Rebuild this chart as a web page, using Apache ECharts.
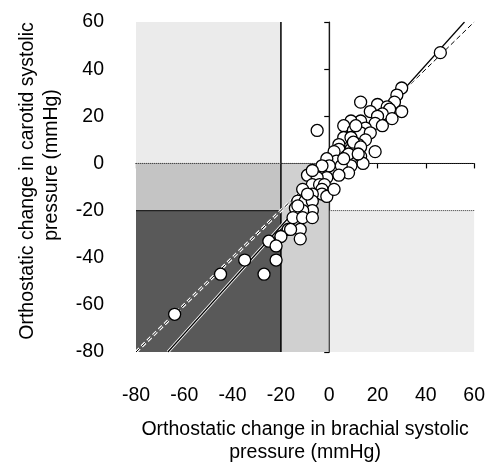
<!DOCTYPE html>
<html>
<head>
<meta charset="utf-8">
<script src="https://cdn.jsdelivr.net/npm/echarts@6/dist/echarts.min.js"></script>
<style>
  html, body { margin: 0; padding: 0; background: #fff; }
  #chart { width: 488px; height: 470px; }
</style>
</head>
<body>
<div id="chart"></div>
<script>
// orthostatic change, mmHg
var brachial = [46, 30, 28, 27, 13, 20, 24, 25, 30, 17, 22, 20, 26, 13, 9, 19, 6, 22, 15, 10,
  13, -5, 17, 6, 9, 15, 4, 12, 19, 9, 4, 2, 7, 13, 8, 3, -1, 6, 14, 9,
  5, 0, -3, 8, 4, -1, -9, -5, -7, -4, -2, -11, -3, -3, -7, -1, -13, -10, -7, -7,
  -11, -14, -13, -15, -11, -7, -17, -12, -16, -20, -12, -25, -22, -22, -27, -35, -45, -64,
  11, 10, 13, 6, -7, 2, -9, 12];
var carotid = [47, 32, 29, 26, 26, 25, 24, 23, 22, 22, 21, 20, 19, 18, 18, 17, 16, 16, 15, 14,
  13, 14, 13, 11, 11, 10, 8, 8, 5, 6, 6, 5, 3, 3, 4, 1, 2, 0, 0, -1,
  -1, -1, -1, -4, -5, -6, -5, -6, -9, -9, -9, -11, -11, -13, -13, -14, -16, -16, -16, -20,
  -20, -19, -18, -23, -23, -23, -28, -28, -28, -31, -32, -33, -35, -41, -47, -41, -47, -64,
  16, 9, 7, 2, -3, -11, -13, 4];

var ticks = [-80, -60, -40, -20, 0, 20, 40, 60];
var regressionLine = [[-66.8, -80], [56, 60]];
var identityLine = [[-80, -80], [60, 60]];

var points = brachial.map(function (x, i) { return [x, carotid[i]]; });

var font = 'Liberation Sans, Arial, sans-serif';
var myChart = echarts.init(document.getElementById('chart'));

function axis(offset) {
  return {
    type: 'value',
    min: ticks[0],
    max: ticks[ticks.length - 1],
    interval: 20,
    offset: offset,
    axisLine: { show: true, lineStyle: { color: '#000', width: 1.2 } },
    axisTick: { show: true, length: 5, lineStyle: { color: '#000', width: 1.2 } },
    axisLabel: { color: '#000', fontSize: 19.5, fontFamily: font, margin: 8 },
    splitLine: { show: false }
  };
}

function seg(data, style) {
  return {
    type: 'line', data: data, symbol: 'none', silent: true,
    lineStyle: style, z: 3
  };
}

var xAxis = axis(26);
xAxis.name = 'Orthostatic change in brachial systolic\npressure (mmHg)';
xAxis.nameLocation = 'middle';
xAxis.nameGap = 40;
xAxis.nameTextStyle = { color: '#000', fontSize: 19.5, fontFamily: font, lineHeight: 23, verticalAlign: 'top' };

var yAxis = axis(24);

option = {
  animation: false,
  grid: { left: 136, right: 13, top: 22, bottom: 118 },
  xAxis: xAxis,
  yAxis: yAxis,
  graphic: [
    { type: 'text', x: 28, y: 181, rotation: Math.PI / 2,
      style: { text: 'Orthostatic change in carotid systolic', fill: '#000', font: '19.5px ' + font,
        textAlign: 'center', textVerticalAlign: 'middle' } },
    { type: 'text', x: 52, y: 165, rotation: Math.PI / 2,
      style: { text: 'pressure (mmHg)', fill: '#000', font: '19.5px ' + font,
        textAlign: 'center', textVerticalAlign: 'middle' } }
  ],
  series: [
    {
      type: 'scatter', data: [], silent: true,
      markArea: {
        silent: true,
        data: [
          [{ coord: [-80, 0], itemStyle: { color: '#ebebeb' } }, { coord: [-20, 60] }],
          [{ coord: [-80, -20], itemStyle: { color: '#c4c4c4' } }, { coord: [-20, 0] }],
          [{ coord: [-20, -80], itemStyle: { color: '#d0d0d0' } }, { coord: [0, 0] }],
          [{ coord: [-80, -80], itemStyle: { color: '#595959' } }, { coord: [-20, -20] }],
          [{ coord: [0, -80], itemStyle: { color: '#ededed' } }, { coord: [60, -20] }]
        ]
      }
    },
    seg([[-20, -80], [-20, 60]], { color: '#000', width: 1.5 }),
    seg([[0, -80], [0, 60]], { color: '#222', width: 1 }),
    seg([[-80, 0], [0, 0]], { color: '#444', width: 1, type: 'dotted' }),
    seg([[-80, -20], [-20, -20]], { color: '#222', width: 1.2 }),
    seg([[0, 0], [60, 0]], { color: '#333', width: 1, type: 'dotted' }),
    seg([[0, -20], [60, -20]], { color: '#333', width: 1, type: 'dotted' }),
    seg(identityLine, { color: '#fff', width: 3, type: [5, 3] }),
    seg(identityLine, { color: '#000', width: 1, type: [5, 3] }),
    seg(regressionLine, { color: '#fff', width: 3 }),
    seg(regressionLine, { color: '#000', width: 1.2 }),
    {
      type: 'scatter',
      data: points,
      symbol: 'circle',
      symbolSize: 12,
      itemStyle: { color: '#fff', borderColor: '#000', borderWidth: 1.3, opacity: 1 },
      z: 5
    }
  ]
};
myChart.setOption(option);
</script>
</body>
</html>
